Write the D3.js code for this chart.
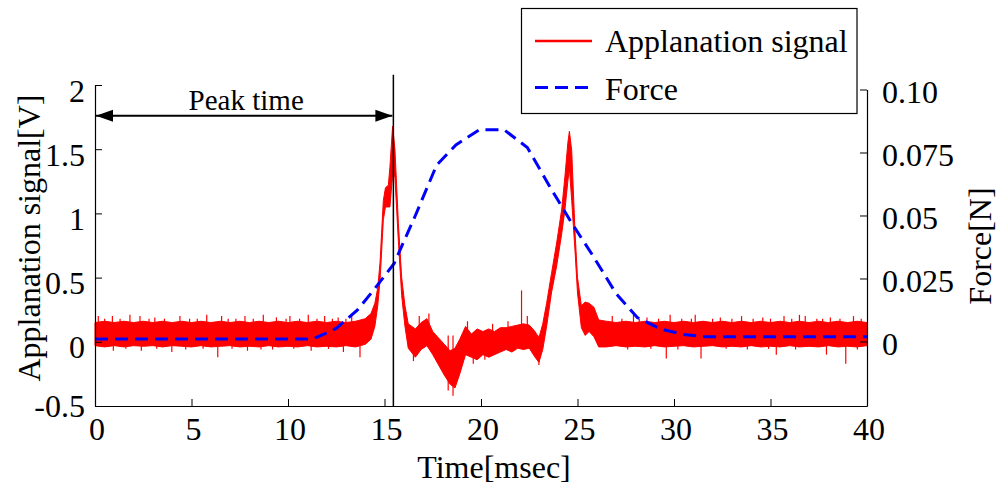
<!DOCTYPE html>
<html>
<head>
<meta charset="utf-8">
<script src="https://cdn.jsdelivr.net/npm/d3@7"></script>
<style>
  body { margin: 0; background: #fff; }
  svg { display: block; }
</style>
</head>
<body>
<div id="chart"></div>
<script>
// x ticks, y ticks
var timeTicks = [0, 5, 10, 15, 20, 25, 30, 35, 40];
var signalTicks = [-0.5, 0, 0.5, 1, 1.5, 2];
var forceTicks = [0, 0.025, 0.05, 0.075, 0.1];
var forceTickLabels = ["0", "0.025", "0.05", "0.075", "0.10"];

// applanation signal, read as a noise band: [time ms, low V, high V]
var signalBand = [
  [0, -0.03, 0.15], [0.5, -0.04, 0.16], [1, -0.03, 0.15], [1.5, -0.04, 0.16],
  [2, -0.03, 0.15], [2.5, -0.035, 0.16], [3, -0.03, 0.15], [3.5, -0.04, 0.16],
  [4, -0.03, 0.15], [4.5, -0.035, 0.16], [5, -0.04, 0.15], [5.5, -0.03, 0.16],
  [6, -0.04, 0.15], [6.5, -0.035, 0.16], [7, -0.03, 0.15], [7.5, -0.04, 0.16],
  [8, -0.035, 0.15], [8.5, -0.04, 0.16], [9, -0.03, 0.15], [9.5, -0.04, 0.16],
  [10, -0.035, 0.15], [10.5, -0.04, 0.16], [11, -0.03, 0.15], [11.5, -0.04, 0.16],
  [12, -0.035, 0.15], [12.5, -0.04, 0.16], [13, -0.03, 0.15], [13.5, -0.04, 0.16],
  [14.0, -0.02, 0.18], [14.3, 0.02, 0.22], [14.5, 0.12, 0.3], [14.65, 0.28, 0.42],
  [14.77, 0.48, 0.62], [14.85, 0.7, 0.85], [14.94, 0.95, 1.1], [15.05, 1.05, 1.2],
  [15.2, 1.05, 1.22], [15.28, 1.05, 1.36], [15.42, 1.3, 1.68], [15.54, 1.28, 1.5],
  [15.72, 0.78, 0.92], [15.89, 0.36, 0.5], [16.06, 0.12, 0.28], [16.23, -0.05, 0.14],
  [16.6, -0.12, 0.1], [16.9, -0.06, 0.15], [17.2, -0.03, 0.18], [17.5, -0.1, 0.08],
  [17.8, -0.18, 0.03], [18.1, -0.26, -0.02], [18.4, -0.33, -0.07], [18.65, -0.36, -0.05],
  [18.9, -0.25, 0.02], [19.2, -0.1, 0.12], [19.5, -0.12, 0.06], [19.8, -0.14, 0.1],
  [20.1, -0.1, 0.08], [20.4, -0.12, 0.1], [20.7, -0.1, 0.08], [21.0, -0.08, 0.11],
  [21.3, -0.06, 0.11], [21.6, -0.08, 0.12], [21.9, -0.05, 0.13], [22.2, -0.06, 0.14],
  [22.5, -0.05, 0.13], [22.8, -0.12, 0.08], [23.0, -0.16, 0.03], [23.2, -0.06, 0.14],
  [23.4, 0.12, 0.3], [23.65, 0.38, 0.53], [23.92, 0.59, 0.77], [24.18, 0.84, 1.03],
  [24.35, 1.03, 1.29], [24.5, 1.25, 1.55], [24.58, 1.35, 1.64], [24.7, 1.1, 1.49],
  [24.87, 0.71, 0.86], [25.0, 0.38, 0.5], [25.2, 0.11, 0.28], [25.4, 0.05, 0.31],
  [25.6, 0.08, 0.3], [25.85, 0.04, 0.27], [26.1, -0.04, 0.17], [26.5, -0.04, 0.16],
  [27, -0.03, 0.15], [27.5, -0.04, 0.16], [28, -0.035, 0.15], [28.5, -0.04, 0.16],
  [29, -0.03, 0.15], [29.5, -0.04, 0.16], [30, -0.035, 0.15], [30.5, -0.03, 0.16],
  [31, -0.04, 0.15], [31.5, -0.035, 0.16], [32, -0.03, 0.15], [32.5, -0.04, 0.16],
  [33, -0.035, 0.15], [33.5, -0.04, 0.16], [34, -0.03, 0.15], [34.5, -0.04, 0.16],
  [35, -0.035, 0.15], [35.5, -0.04, 0.16], [36, -0.03, 0.15], [36.5, -0.04, 0.16],
  [37, -0.035, 0.15], [37.5, -0.04, 0.16], [38, -0.03, 0.15], [38.5, -0.04, 0.16],
  [39, -0.035, 0.15], [39.5, -0.04, 0.16], [40, -0.03, 0.15]
];

// single noise spikes sticking out of the band: [time ms, V]
var signalSpikes = [
  [0.17, 0.2], [0.9, 0.2], [1.81, 0.21], [2.33, 0.2], [3.1, 0.19], [4.4, 0.2],
  [5.79, 0.21], [6.56, 0.2], [7.77, 0.2], [8.72, 0.21], [9.4, 0.19], [10.1, 0.2],
  [11.05, 0.21], [11.9, 0.2], [12.6, 0.19], [13.3, 0.2], [26.8, 0.2], [27.9, 0.21],
  [28.6, 0.19], [29.8, 0.21], [31.1, 0.21], [32.4, 0.19], [33.5, 0.2], [34.6, 0.19],
  [35.7, 0.2], [36.5, 0.21], [36.8, 0.2], [38.1, 0.19], [39.3, 0.2],
  [0.5, 0.18], [1.3, 0.18], [2.8, 0.18], [3.6, 0.18], [4.9, 0.18], [5.3, 0.18],
  [6.9, 0.18], [7.3, 0.18], [8.2, 0.18], [9.9, 0.18], [10.6, 0.18], [11.5, 0.18],
  [12.3, 0.18], [13.0, 0.18], [27.3, 0.18], [28.2, 0.18], [29.2, 0.18], [30.4, 0.18],
  [30.9, 0.18], [32.0, 0.18], [33.0, 0.18], [34.1, 0.18], [35.0, 0.18], [36.1, 0.18],
  [37.4, 0.18], [37.7, 0.18], [38.6, 0.18], [39.7, 0.18],
  [0.95, -0.07], [2.4, -0.07], [3.98, -0.08], [6.36, -0.12], [7.9, -0.07],
  [8.6, -0.06], [11.2, -0.07], [12.87, -0.08], [13.73, -0.12], [29.6, -0.13],
  [31.4, -0.13], [35.3, -0.1], [37.9, -0.1], [38.9, -0.17],
  [1.6, -0.055], [3.2, -0.055], [4.7, -0.06], [5.6, -0.055], [7.1, -0.055],
  [9.2, -0.06], [10.3, -0.055], [12.1, -0.055], [27.6, -0.06], [28.8, -0.055],
  [30.2, -0.06], [32.7, -0.055], [33.8, -0.06], [34.9, -0.055], [36.3, -0.06],
  [39.5, -0.06],
  [16.8, 0.2], [17.3, 0.22], [19.3, 0.16], [20.6, 0.14], [21.4, 0.16], [22.1, 0.4],
  [22.4, 0.2], [16.5, -0.15], [18.55, -0.42], [18.3, -0.38], [19.6, -0.17],
  [20.2, -0.14], [23.0, -0.18]
];

// force [time ms, N]
var forceData = [
  [0, 0.001], [11.3, 0.001], [12.5, 0.0052], [13.6, 0.0125], [14.5, 0.021],
  [15.5, 0.031], [16.6, 0.05], [17.7, 0.07], [18.7, 0.078], [19.9, 0.084],
  [21.2, 0.084], [22.4, 0.077], [23.6, 0.061], [24.7, 0.047], [25.8, 0.034],
  [27.0, 0.019], [28.1, 0.0095], [29.3, 0.005], [30.5, 0.0028], [31.6, 0.0019],
  [40, 0.0019]
];

var peakTime = 15.46;
var arrowLevel = 1.76;
var markerTop = 2.08;

var W = 999, H = 487;
var font = "'Liberation Serif', 'Times New Roman', serif";

var svg = d3.select("#chart").append("svg")
  .attr("width", W)
  .attr("height", H)
  .style("background", "#fff");

var x = d3.scaleLinear().domain([0, 40]).range([95, 867]);
var yL = d3.scaleLinear().domain([-0.5, 2]).range([406, 85]);
var yR = d3.scaleLinear().domain([-0.0256, 0.1]).range([406, 89.5]);

// signal band
svg.append("path")
  .datum(signalBand)
  .attr("d", d3.area()
    .x(function(d) { return x(d[0]); })
    .y0(function(d) { return yL(d[1]); })
    .y1(function(d) { return yL(d[2]); }))
  .attr("fill", "#ff0000")
  .attr("stroke", "#ff0000")
  .attr("stroke-width", 1)
  .attr("stroke-linejoin", "round");

svg.selectAll(".spike")
  .data(signalSpikes)
  .enter()
  .append("line")
  .attr("class", "spike")
  .attr("x1", function(d) { return x(d[0]); })
  .attr("x2", function(d) { return x(d[0]); })
  .attr("y1", yL(0.05))
  .attr("y2", function(d) { return yL(d[1]); })
  .attr("stroke", "#ff0000")
  .attr("stroke-width", 1.2);

// force
svg.append("path")
  .datum(forceData)
  .attr("d", d3.line()
    .x(function(d) { return x(d[0]); })
    .y(function(d) { return yR(d[1]); }))
  .attr("fill", "none")
  .attr("stroke", "#0000ff")
  .attr("stroke-width", 3)
  .attr("stroke-dasharray", "13,7");

// peak time marker
svg.append("line")
  .attr("x1", x(peakTime)).attr("x2", x(peakTime))
  .attr("y1", yL(markerTop)).attr("y2", yL(-0.5))
  .attr("stroke", "#000")
  .attr("stroke-width", 1.5);

svg.append("defs").append("marker")
  .attr("id", "head")
  .attr("markerUnits", "userSpaceOnUse")
  .attr("markerWidth", 18)
  .attr("markerHeight", 14)
  .attr("viewBox", "0 -7 18 14")
  .attr("refX", 17)
  .attr("refY", 0)
  .attr("orient", "auto-start-reverse")
  .append("path")
  .attr("d", "M0,-6L17,0L0,6Z")
  .attr("fill", "#000");

svg.append("line")
  .attr("x1", x(0) + 1).attr("x2", x(peakTime) - 1)
  .attr("y1", yL(arrowLevel)).attr("y2", yL(arrowLevel))
  .attr("stroke", "#000")
  .attr("stroke-width", 2)
  .attr("marker-start", "url(#head)")
  .attr("marker-end", "url(#head)");

svg.append("text")
  .attr("x", x(peakTime / 2) + 2)
  .attr("y", yL(arrowLevel) - 6)
  .attr("text-anchor", "middle")
  .attr("font-family", font)
  .attr("font-size", 29)
  .text("Peak time");

// axes
function styleAxis(g) {
  g.select(".domain").attr("stroke", "#000").attr("stroke-width", 1.2);
  g.selectAll(".tick line").attr("stroke", "#000").attr("stroke-width", 1);
  g.selectAll(".tick text")
    .attr("font-family", font)
    .attr("font-size", 32)
    .attr("fill", "#000");
}

var gx = svg.append("g")
  .attr("transform", "translate(0," + 406 + ")")
  .call(d3.axisBottom(x).tickValues(timeTicks).tickSizeInner(-7).tickSizeOuter(0)
    .tickPadding(11).tickFormat(function(d) { return String(d); }));
styleAxis(gx);
gx.selectAll(".tick text").attr("dx", "0.05em");

var gl = svg.append("g")
  .attr("transform", "translate(95,0)")
  .call(d3.axisLeft(yL).tickValues(signalTicks).tickSizeInner(-7).tickSizeOuter(0)
    .tickPadding(10).tickFormat(function(d) { return String(d); }));
styleAxis(gl);
gl.selectAll(".tick text").attr("dy", "0.5em");
gl.selectAll(".tick text").filter(function(d) { return d < 0; }).attr("dy", "0.32em");

var gr = svg.append("g")
  .attr("transform", "translate(867,0)")
  .call(d3.axisRight(yR).tickValues(forceTicks).tickSizeInner(-7).tickSizeOuter(0)
    .tickPadding(15).tickFormat(function(d, i) { return forceTickLabels[i]; }));
styleAxis(gr);
gr.selectAll(".tick text").attr("dy", "0.42em");

// axis titles
svg.append("text")
  .attr("transform", "translate(40,238) rotate(-90)")
  .attr("text-anchor", "middle")
  .attr("font-family", font)
  .attr("font-size", 32)
  .text("Applanation signal[V]");

svg.append("text")
  .attr("transform", "translate(991,246) rotate(-90)")
  .attr("text-anchor", "middle")
  .attr("font-family", font)
  .attr("font-size", 32)
  .text("Force[N]");

svg.append("text")
  .attr("x", 494)
  .attr("y", 478)
  .attr("text-anchor", "middle")
  .attr("font-family", font)
  .attr("font-size", 32)
  .text("Time[msec]");

// legend
var legend = svg.append("g");
legend.append("rect")
  .attr("x", 521.5).attr("y", 8.5)
  .attr("width", 335.5).attr("height", 105)
  .attr("fill", "#fff")
  .attr("stroke", "#000")
  .attr("stroke-width", 1.2);

legend.append("line")
  .attr("x1", 535).attr("x2", 592).attr("y1", 41).attr("y2", 41)
  .attr("stroke", "#ff0000").attr("stroke-width", 2.5);
legend.append("line")
  .attr("x1", 535).attr("x2", 592).attr("y1", 87.5).attr("y2", 87.5)
  .attr("stroke", "#0000ff").attr("stroke-width", 3)
  .attr("stroke-dasharray", "13,7");

legend.append("text")
  .attr("x", 605).attr("y", 52)
  .attr("font-family", font).attr("font-size", 32)
  .text("Applanation signal");
legend.append("text")
  .attr("x", 605).attr("y", 100)
  .attr("font-family", font).attr("font-size", 32)
  .text("Force");
</script>
</body>
</html>
